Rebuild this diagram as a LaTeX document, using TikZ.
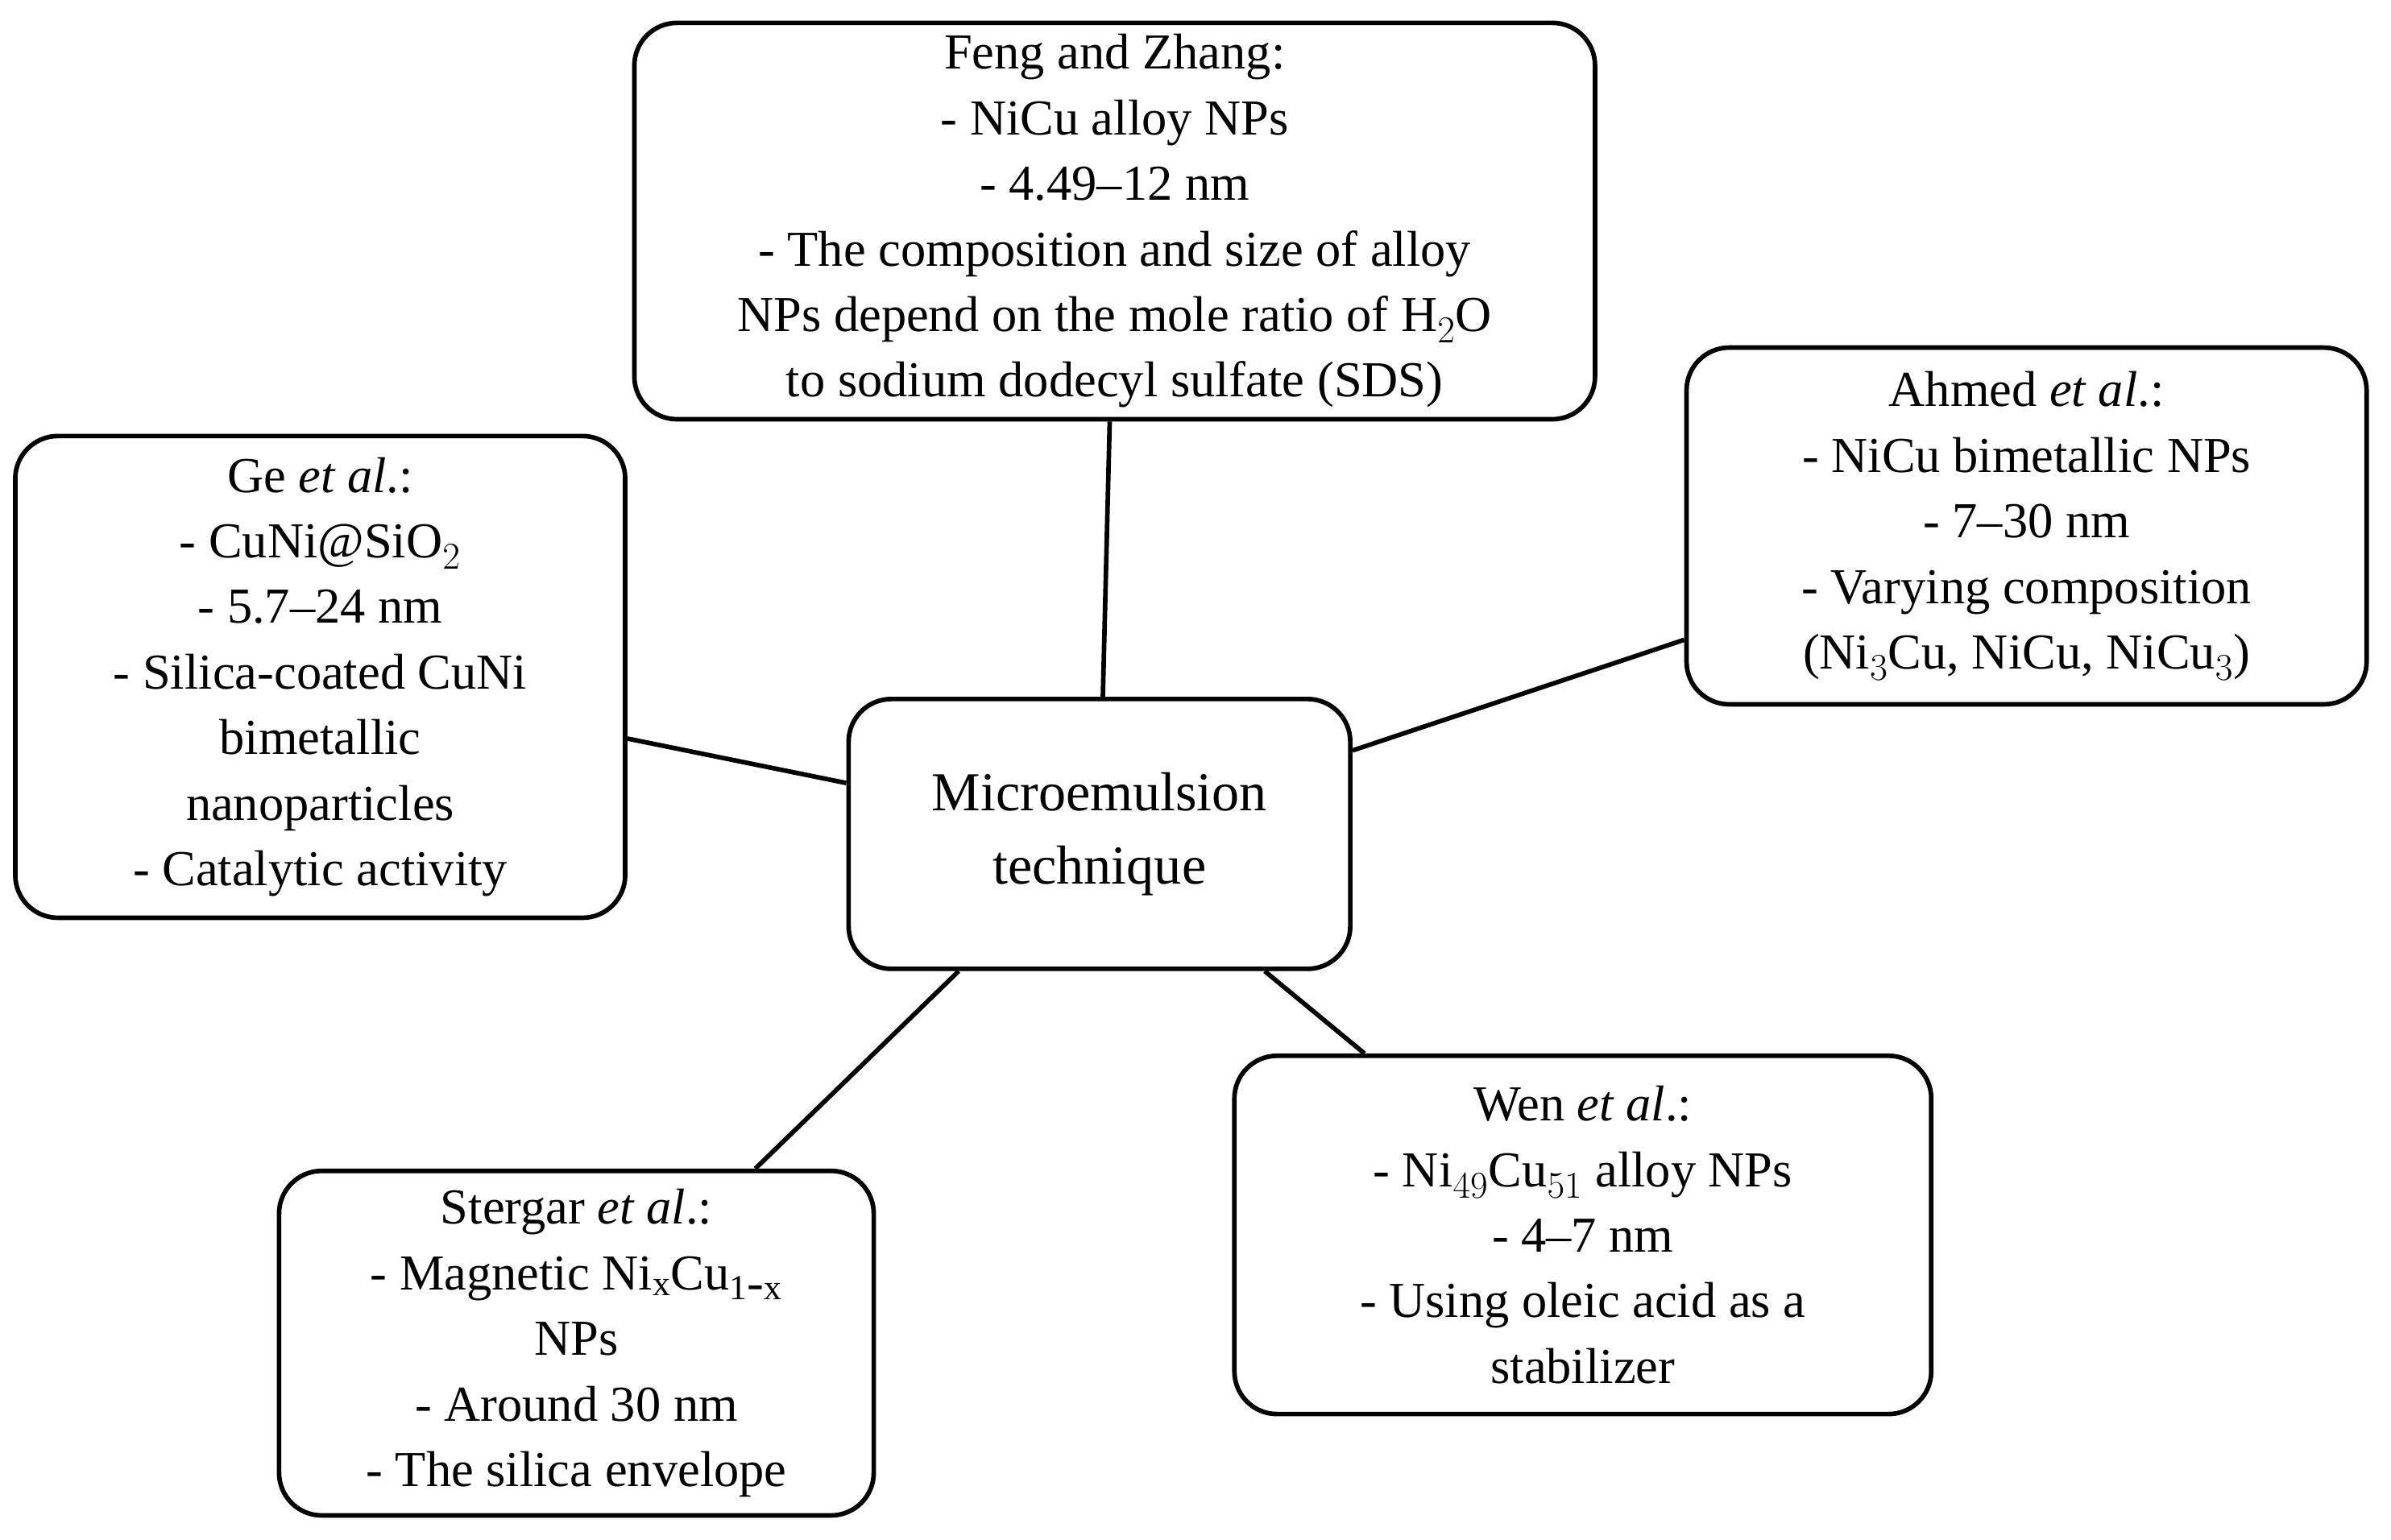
\documentclass[tikz,border=0pt]{standalone}
\usepackage{fontspec}
\setmainfont{Liberation Serif}
\begin{document}
\begin{tikzpicture}[x=1pt,y=1pt,
 box/.style={draw,line width=3pt,rounded corners=28pt,align=center,inner sep=0pt,
   font=\fontsize{33}{43}\selectfont},
 link/.style={line width=3pt}]
\useasboundingbox (0,0) rectangle (1568,1010);
\node[box,minimum width=630,minimum height=260] (f) at (731,865) {Feng and Zhang:\\- NiCu alloy NPs\\- 4.49--12 nm\\- The composition and size of alloy\\NPs depend on the mole ratio of H$_2$O\\to sodium dodecyl sulfate (SDS)};
\node[box,minimum width=446,minimum height=234] (a) at (1329,665) {Ahmed \textit{et al}.:\\- NiCu bimetallic NPs\\- 7--30 nm\\- Varying composition\\(Ni$_3$Cu, NiCu, NiCu$_3$)};
\node[box,minimum width=400,minimum height=316] (g) at (210,566) {Ge \textit{et al}.:\\- CuNi@SiO$_2$\\- 5.7--24 nm\\- Silica-coated CuNi\\bimetallic\\nanoparticles\\- Catalytic activity};
\node[box,minimum width=329,minimum height=177,font=\fontsize{36}{48}\selectfont] (c) at (721,463) {Microemulsion\\technique};
\node[box,minimum width=457,minimum height=235] (w) at (1038,200) {Wen \textit{et al}.:\\- Ni$_{49}$Cu$_{51}$ alloy NPs\\- 4--7 nm\\- Using oleic acid as a\\stabilizer};
\node[box,minimum width=390,minimum height=226] (s) at (378,129) {Stergar \textit{et al}.:\\- Magnetic Ni$_\mathrm{x}$Cu$_\mathrm{1\mbox{-}x}$\\NPs\\- Around 30 nm\\- The silica envelope};
\foreach \n in {f,a,g,w,s} \draw[link] (\n) -- (c);
\end{tikzpicture}
\end{document}
